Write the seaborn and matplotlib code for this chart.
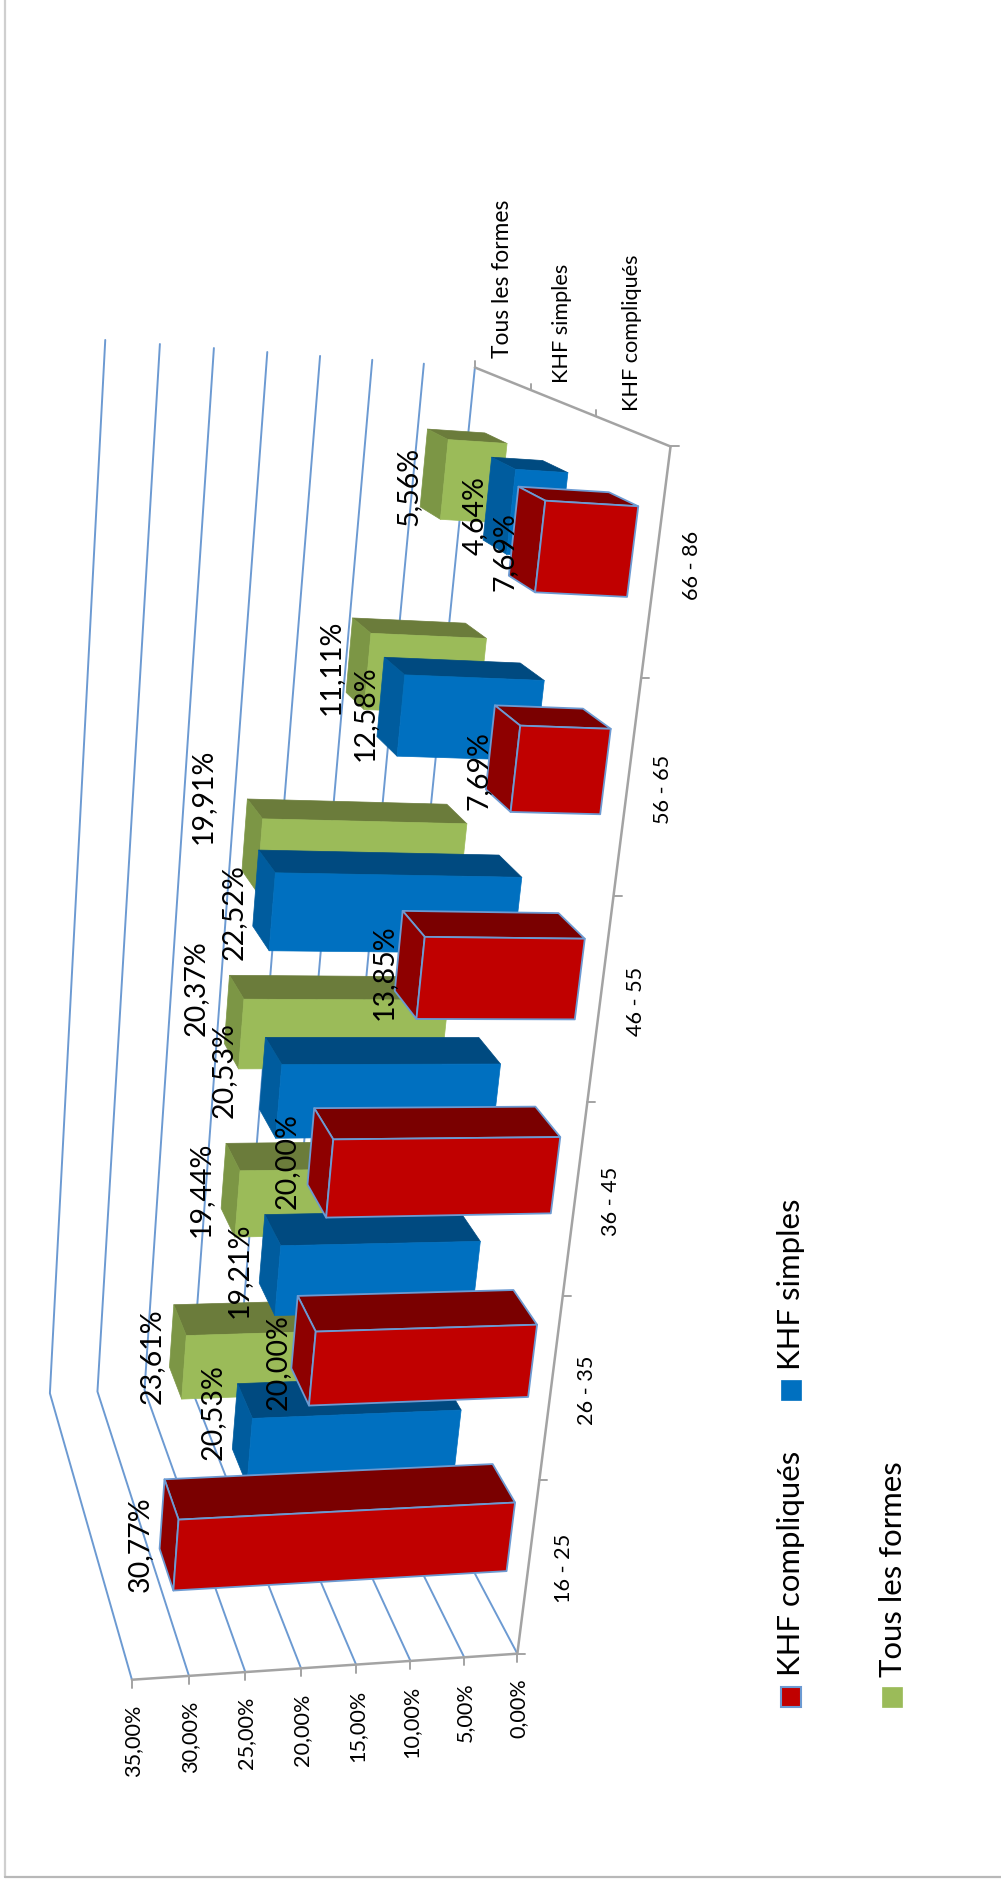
import numpy as np
import matplotlib
matplotlib.use("Agg")
import matplotlib.pyplot as plt
import seaborn as sns

# Chart data
age_groups = ["16 - 25", "26 - 35", "36 - 45", "46 - 55", "56 - 65", "66 - 86"]
series_names = ["KHF compliqués", "KHF simples", "Tous les formes"]
khf_compliques = [30.77, 20.00, 20.00, 13.85, 7.69, 7.69]
khf_simples = [20.53, 19.21, 20.53, 22.52, 12.58, 4.64]
tous_les_formes = [23.61, 19.44, 20.37, 19.91, 11.11, 5.56]
value_ticks = [0, 5, 10, 15, 20, 25, 30, 35]

# Pixel nudges that keep individual value labels clear of their neighbours
nudge_compliques = [(-3, -2), (0, 0), (-7, -13), (0, -4), (2, 0), (4, 1)]
nudge_simples = [(-4, -34), (-5, -6), (-21, -29), (-4, 0), (0, -5), (2, -2)]
nudge_tous = [(0, -7), (-4, -13), (-12, -46), (-23, -61), (-2, -8), (0, 1)]

sns.set_theme(style="white")
plt.rcParams["font.family"] = ["Lato", "DejaVu Sans"]

face_colors = sns.color_palette(["#C00000", "#0070C0", "#9BBB59"])
upper_colors = sns.color_palette(["#7A0000", "#004A80", "#6B7C3B"])
end_colors = sns.color_palette(["#8E0000", "#005C9E", "#7C9645"])
GRID = "#6C9AD2"
AXIS = "#A3A3A3"

W, H = 1001, 1888
fig = plt.figure(figsize=(W / 100, H / 100), dpi=100, facecolor="white")
ax = fig.add_axes([0, 0, 1, 1])
ax.set_xlim(0, W)
ax.set_ylim(H, 0)
ax.axis("off")

# Perspective camera for the tilted plot box, solved from its corners.
# Box coordinates: (category position, series depth, value).
box_corners = np.array([
    [0, 0, 0], [6, 0, 0], [6, 3, 0], [0, 3, 0],
    [0, 0, 35], [0, 3, 35], [6, 3, 35],
], float)
screen_corners = np.array([
    [517, 1653], [672, 447], [473, 367], [374, 1382],
    [131, 1680], [50, 1393], [106, 340],
], float)


def solve_camera(world, screen):
    rows, rhs = [], []
    for (u, z, v), (x, y) in zip(world, screen):
        rows.append([u, z, v, 1, 0, 0, 0, 0, -x * u, -x * z, -x * v])
        rows.append([0, 0, 0, 0, u, z, v, 1, -y * u, -y * z, -y * v])
        rhs += [x, y]
    p = np.linalg.lstsq(np.array(rows), np.array(rhs), rcond=None)[0]
    return np.append(p, 1).reshape(3, 4)


camera = solve_camera(box_corners, screen_corners)


def project(u, z, v):
    x, y, w = camera @ np.array([u, z, v, 1.0])
    return np.array([x / w, y / w])


# Outer chart frame: left and bottom edges only
ax.plot([4.5, 4.5], [0, 1877], color="#CFCFCF", lw=1.6, zorder=1)
ax.plot([4.5, W], [1877, 1877], color="#B8B8B8", lw=1.6, zorder=1)

# Gridlines across the side wall and the back wall
for v in value_ticks:
    pts = np.array([project(0, 0, v), project(0, 3, v), project(6, 3, v)])
    ax.plot(pts[:, 0], pts[:, 1], color=GRID, lw=1.4, zorder=2)

# Axis lines and tick marks
for a, b in [((0, 0, 0), (0, 0, 35)), ((0, 0, 0), (6, 0, 0)), ((6, 0, 0), (6, 3, 0))]:
    pts = np.array([project(*a), project(*b)])
    ax.plot(pts[:, 0], pts[:, 1], color=AXIS, lw=1.8, zorder=3)
for v in value_ticks:
    x, y = project(0, 0, v)
    ax.plot([x, x], [y, y + 8], color=AXIS, lw=1.4, zorder=3)
    ax.text(x + 1, y + 25, f"{v},00%", rotation=90, ha="center", va="top",
            fontsize=15.6, color="black", zorder=9)
for i in range(7):
    x, y = project(i, 0, 0)
    ax.plot([x, x + 8], [y, y], color=AXIS, lw=1.4, zorder=3)
for s in range(1, 4):
    x, y = project(6, s, 0)
    ax.plot([x, x], [y, y - 6], color=AXIS, lw=1.4, zorder=3)

# Category and series labels along the floor edges
for i, name in enumerate(age_groups):
    x, y = project(i + 0.5, 0, 0)
    ax.text(x + 36, y + 1, name, rotation=90, ha="center", va="center",
            fontsize=15.6, color="black", zorder=9)
for s, name in enumerate(series_names):
    x, y = project(6, s + 0.5, 0)
    ax.text(x, y - 20, name, rotation=90, ha="center", va="bottom",
            fontsize=15.6 if s < 2 else 16.4, color="black", zorder=9)

series_values = [khf_compliques, khf_simples, tous_les_formes]
label_nudges = [nudge_compliques, nudge_simples, nudge_tous]
BAR_SPAN = 0.4
pad = (1 - BAR_SPAN) / 2


def draw_bar(i, s, value, order):
    u0, u1 = i + pad, i + pad + BAR_SPAN
    z0, z1 = s + pad, s + pad + BAR_SPAN
    front = [project(u0, z0, 0), project(u1, z0, 0), project(u1, z0, value), project(u0, z0, value)]
    upper = [project(u1, z0, 0), project(u1, z1, 0), project(u1, z1, value), project(u1, z0, value)]
    end = [project(u0, z0, value), project(u1, z0, value), project(u1, z1, value), project(u0, z1, value)]
    edge = GRID if s == 0 else None
    for poly, col in [(upper, upper_colors[s]), (end, end_colors[s]), (front, face_colors[s])]:
        poly = np.array(poly)
        ax.fill(poly[:, 0], poly[:, 1], facecolor=col, edgecolor=edge if edge else col,
                lw=1.3 if edge else 0.5, joinstyle="round", zorder=order)


# Painter's order: back series first, higher categories before lower ones
order = 4.0
for s in (2, 1, 0):
    for i in range(5, -1, -1):
        draw_bar(i, s, series_values[s][i], order)
        order += 0.01

# Value labels beside the top of each bar
for s, values in enumerate(series_values):
    for i, value in enumerate(values):
        x, y = project(i + 0.5, s + 0.5, value)
        dx, dy = label_nudges[s][i]
        ax.text(x - 26 + dx, y + 12 + dy, f"{value:.2f}%".replace(".", ","), rotation=90,
                ha="center", va="center", fontsize=20.5, color="black", zorder=10)

# Legend, laid out sideways like the rest of the chart
legend_items = [
    (0, 781, 1687, 791, 1676),
    (1, 781, 1380, 791, 1370),
    (2, 882, 1687, 893, 1677),
]
for s, bx, by, tx, ty in legend_items:
    ax.add_patch(plt.Rectangle((bx, by), 20, 20, facecolor=face_colors[s],
                               edgecolor=GRID if s == 0 else face_colors[s],
                               lw=1.5 if s == 0 else 0.5, zorder=9))
    ax.text(tx, ty, series_names[s], rotation=90, ha="center", va="bottom",
            fontsize=22.4, color="black", zorder=9)

fig.savefig("out.png", dpi=100, facecolor="white")
